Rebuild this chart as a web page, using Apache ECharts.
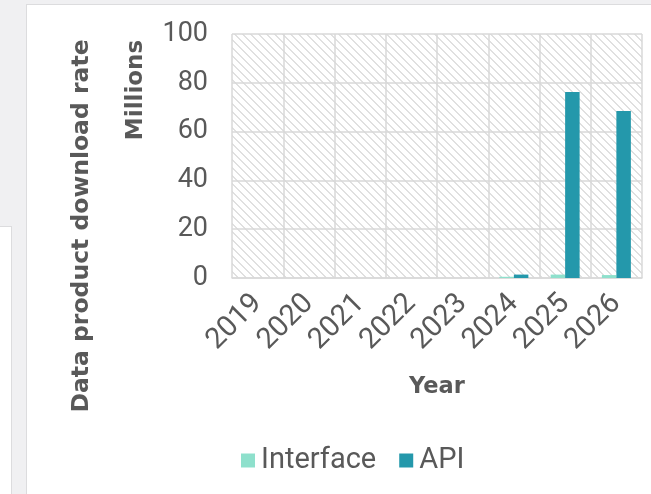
<!DOCTYPE html>
<html>
<head>
<meta charset="utf-8">
<script src="https://cdn.jsdelivr.net/npm/echarts@6/dist/echarts.min.js"></script>
<style>
  html, body { margin: 0; padding: 0; background: #f0f0f2; }
  #stage { position: relative; width: 651px; height: 494px; overflow: hidden; background: #f0f0f2; }
  #side { position: absolute; left: -1px; top: 226px; width: 11px; height: 300px; background: #ffffff; border: 1px solid #dcdcde; }
  #panel { position: absolute; left: 26px; top: 4px; width: 700px; height: 600px; background: #ffffff; border: 1px solid #dcdcde; }
  #chart { position: absolute; left: 0; top: 0; width: 651px; height: 494px; }
</style>
</head>
<body>
<div id="stage">
  <div id="side"></div>
  <div id="panel"></div>
  <div id="chart"></div>
</div>
<script>
// Download rate by year, in millions
const years = ['2019', '2020', '2021', '2022', '2023', '2024', '2025', '2026'];
const interfaceValues = [0, 0, 0, 0, 0, 0.5, 1.4, 1.2];
const apiValues = [0, 0, 0, 0, 0, 1.4, 76.2, 68.4];
const seriesNames = ['Interface', 'API'];

const textColor = '#595959';
const gridColor = '#d9d9d9';
const fontFamily = 'Roboto, "Noto Sans", sans-serif';
const titleFont = '"DejaVu Sans", sans-serif';

// Light diagonal hatch used as the plot-area fill
function hatchPattern() {
  const size = 8;
  const c = document.createElement('canvas');
  c.width = size; c.height = size;
  const ctx = c.getContext('2d');
  ctx.fillStyle = '#ffffff';
  ctx.fillRect(0, 0, size, size);
  ctx.fillStyle = '#e0e0e0';
  for (let i = 0; i < size; i++) {
    ctx.fillRect(i, i, 1, 1);
    ctx.fillRect((i + 1) % size, i, 1, 1);
  }
  return c;
}

const chart = echarts.init(document.getElementById('chart'), null, { renderer: 'canvas' });

chart.setOption({
  backgroundColor: 'transparent',
  animation: false,
  textStyle: { fontFamily: fontFamily, color: textColor },
  grid: {
    left: 232, top: 34, width: 410, height: 244,
    show: true,
    backgroundColor: { image: hatchPattern(), repeat: 'repeat' },
    borderWidth: 0
  },
  legend: {
    data: seriesNames,
    top: 441,
    left: 236,
    icon: 'rect',
    itemWidth: 14,
    itemHeight: 14,
    itemGap: 23,
    textStyle: { fontSize: 29, color: textColor, fontFamily: fontFamily, padding: [0, 0, 0, 1] }
  },
  xAxis: {
    type: 'category',
    data: years,
    axisLine: { show: true, lineStyle: { color: gridColor, width: 1.5 } },
    axisTick: { show: false },
    splitLine: { show: true, lineStyle: { color: gridColor, width: 1.5 } },
    axisLabel: { rotate: 45, fontSize: 29, color: textColor, margin: 21, interval: 0 },
    name: 'Year',
    nameLocation: 'middle',
    nameGap: 98,
    nameTextStyle: { fontSize: 22.5, fontWeight: 'bold', color: textColor, fontFamily: titleFont }
  },
  yAxis: {
    type: 'value',
    min: 0, max: 100, interval: 20,
    axisLine: { show: false },
    axisTick: { show: false },
    splitLine: { show: true, lineStyle: { color: gridColor, width: 1.5 } },
    axisLabel: { fontSize: 27, color: textColor, margin: 24 }
  },
  graphic: [
    {
      type: 'text',
      x: 82, y: 226, rotation: Math.PI / 2,
      style: {
        text: 'Data product download rate',
        fontSize: 23.5, fontWeight: 'bold', fontFamily: titleFont,
        fill: textColor, align: 'center', verticalAlign: 'middle'
      }
    },
    {
      type: 'text',
      x: 136, y: 90, rotation: Math.PI / 2,
      style: {
        text: 'Millions',
        fontSize: 23, fontWeight: 'bold', fontFamily: titleFont,
        fill: textColor, align: 'center', verticalAlign: 'middle'
      }
    }
  ],
  series: [
    {
      name: seriesNames[0],
      type: 'bar',
      data: interfaceValues,
      barWidth: 14.5,
      barGap: '0%',
      itemStyle: { color: '#8ee0cc' }
    },
    {
      name: seriesNames[1],
      type: 'bar',
      data: apiValues,
      barWidth: 14.5,
      barGap: '0%',
      itemStyle: { color: '#2498ab' }
    }
  ]
});
</script>
</body>
</html>
